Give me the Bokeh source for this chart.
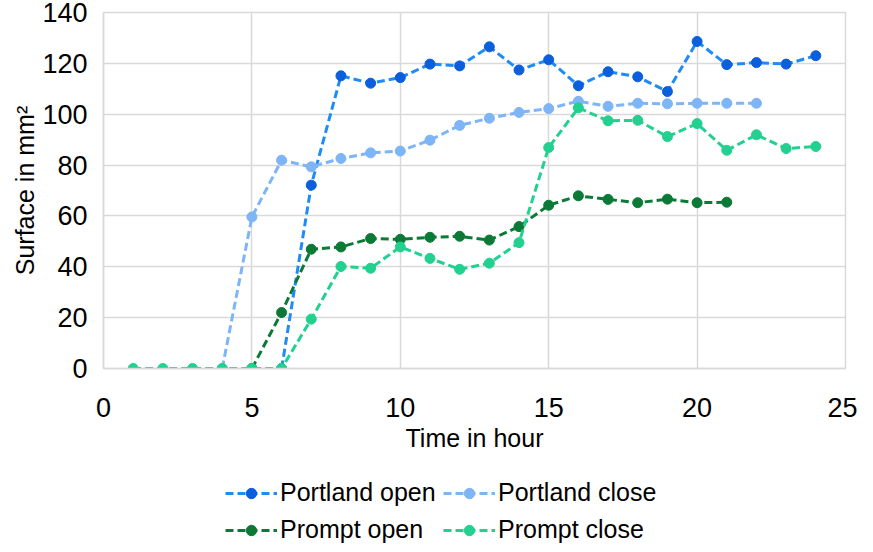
from bokeh.plotting import figure
from bokeh.models import Legend, LegendItem, FixedTicker, Range1d
from bokeh.layouts import column
from bokeh.embed import file_html
from bokeh.resources import INLINE

# ---- data ----
po_x = [6, 7, 8, 9, 10, 11, 12, 13, 14, 15, 16, 17, 18, 19, 20, 21, 22, 23, 24]
po_y = [0, 72.1, 115.1, 112.2, 114.4, 119.7, 119.0, 126.5, 117.4, 121.4, 111.2, 116.7, 114.7, 108.9, 128.6, 119.5, 120.3, 119.7, 123.0]

pc_x = [4, 5, 6, 7, 8, 9, 10, 11, 12, 13, 14, 15, 16, 17, 18, 19, 20, 21, 22]
pc_y = [0, 59.6, 81.9, 79.3, 82.6, 84.8, 85.5, 89.8, 95.6, 98.4, 100.7, 102.2, 105.1, 103.1, 104.3, 104.1, 104.3, 104.3, 104.3]

mo_x = [5, 6, 7, 8, 9, 10, 11, 12, 13, 14, 15, 16, 17, 18, 19, 20, 21]
mo_y = [0, 22.0, 46.9, 47.8, 51.1, 50.8, 51.6, 52.0, 50.5, 55.8, 64.2, 67.9, 66.5, 65.2, 66.6, 65.2, 65.4]

mc_x = [1, 2, 3, 4, 5, 6, 7, 8, 9, 10, 11, 12, 13, 14, 15, 16, 17, 18, 19, 20, 21, 22, 23, 24]
mc_y = [0, 0, 0, 0, 0, 0, 19.4, 40.1, 39.4, 47.8, 43.3, 39.0, 41.4, 49.5, 86.9, 102.5, 97.4, 97.6, 91.2, 96.3, 85.8, 91.9, 86.5, 87.3]

names = ["Portland open", "Portland close", "Prompt open", "Prompt close"]
x_ticks = [0, 5, 10, 15, 20, 25]
y_ticks = [0, 20, 40, 60, 80, 100, 120, 140]

series = [
    (po_x, po_y, "#1f8bf5", "#0b5fdc"),
    (pc_x, pc_y, "#7db5f7", "#7db5f7"),
    (mo_x, mo_y, "#0b7a36", "#0b7a36"),
    (mc_x, mc_y, "#22d18f", "#22d18f"),
]

FONT = "Liberation Sans"

p = figure(frame_width=742, frame_height=356, output_backend="svg", toolbar_location=None,
           x_range=Range1d(0, 25), y_range=Range1d(0, 140),
           min_border_left=103, min_border_right=12, min_border_top=12, min_border_bottom=96)

p.outline_line_color = "#d9d9d9"
p.outline_line_width = 1.5
for ax in (p.xaxis[0], p.yaxis[0]):
    ax.axis_line_color = "#d9d9d9"
    ax.axis_line_width = 1.5
    ax.major_tick_line_color = None
    ax.minor_tick_line_color = None
    ax.major_label_text_font = FONT
    ax.major_label_text_font_size = "27px"
    ax.major_label_text_color = "#000000"
    ax.axis_label_text_font = FONT
    ax.axis_label_text_font_size = "25px"
    ax.axis_label_text_font_style = "normal"
    ax.axis_label_text_color = "#000000"

p.xaxis.ticker = FixedTicker(ticks=x_ticks)
p.yaxis.ticker = FixedTicker(ticks=y_ticks)
p.xaxis.axis_label = "Time in hour"
p.yaxis.axis_label = "Surface in mm²"
p.xaxis.major_label_standoff = 23
p.yaxis.major_label_standoff = 10
p.xaxis.axis_label_standoff = 4
p.yaxis.axis_label_standoff = 0

p.xgrid.ticker = FixedTicker(ticks=x_ticks)
p.ygrid.ticker = FixedTicker(ticks=y_ticks)
p.xgrid.grid_line_color = "#d9d9d9"
p.ygrid.grid_line_color = "#d9d9d9"
p.xgrid.grid_line_width = 1.5
p.ygrid.grid_line_width = 1.5

# legend strip below the chart (same series, renderers hidden there)
lg = figure(width=857, height=80, output_backend="svg", toolbar_location=None,
            x_axis_type=None, y_axis_type=None, min_border=0,
            outline_line_color=None)

items = []
for (xs, ys, lc, mc), name in zip(series, names):
    p.line(xs, ys, line_color=lc, line_width=3, line_dash="8 4")
    p.scatter(xs, ys, size=10, fill_color=mc, line_color=mc)
    l1 = lg.line(xs, ys, line_color=lc, line_width=3, line_dash="8 4", visible=False)
    l2 = lg.scatter(xs, ys, size=10, fill_color=mc, line_color=mc, visible=False)
    items.append(LegendItem(label=name, renderers=[l1, l2]))

common = dict(orientation="horizontal", border_line_color=None, background_fill_alpha=0,
              label_text_font=FONT, label_text_font_size="25px", label_text_color="#000000",
              glyph_width=52, glyph_height=26, label_height=26, label_width=158,
              label_standoff=3, spacing=5, padding=0, margin=0,
              inactive_fill_alpha=0)
leg1 = Legend(items=items[:2], location=(122, 37), **common)
leg2 = Legend(items=items[2:], location=(122, 0), **common)
lg.add_layout(leg1, "center")
lg.add_layout(leg2, "center")

layout = column(p, lg, spacing=0)
open("out.html", "w").write(file_html(layout, INLINE))
